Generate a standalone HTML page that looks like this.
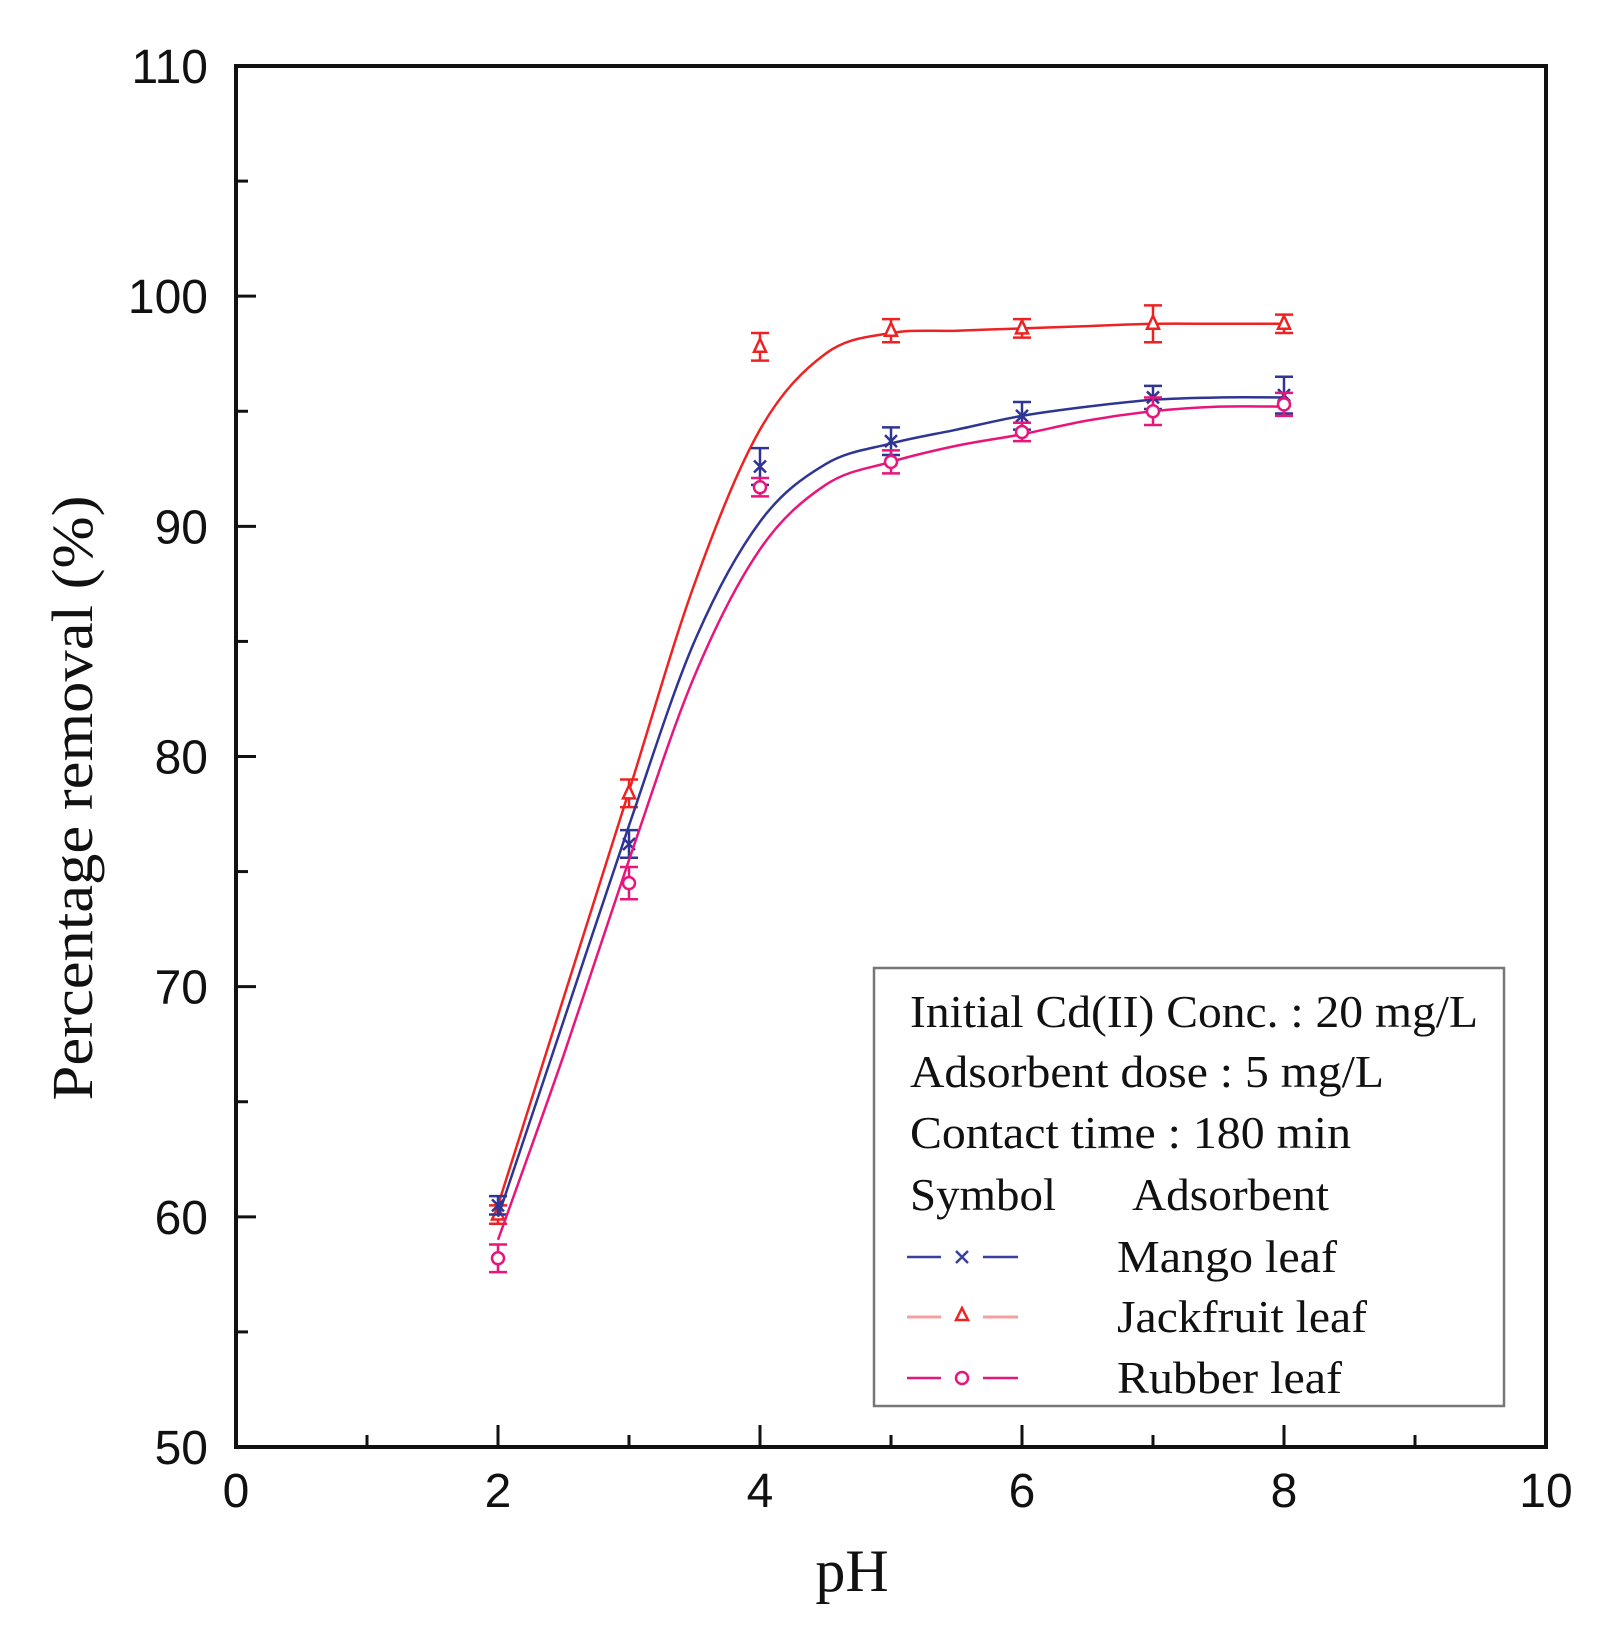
<!DOCTYPE html>
<html><head><meta charset="utf-8"><style>
html,body{margin:0;padding:0;background:#fff;}
svg{display:block;}
</style></head><body>
<svg id="chart" width="1600" height="1637" viewBox="0 0 1600 1637" xmlns="http://www.w3.org/2000/svg">
<g id="plot"></g>
<rect x="236" y="66" width="1310" height="1381" fill="none" stroke="#111" stroke-width="4"/>
<text transform="translate(92,798) rotate(-90)" text-anchor="middle" font-family="Liberation Serif, serif" font-size="58" textLength="605" lengthAdjust="spacingAndGlyphs" fill="#111">Percentage removal (%)</text>
<text x="852" y="1591" text-anchor="middle" font-family="Liberation Serif, serif" font-size="60" fill="#111">pH</text>
<g>
<rect x="874" y="968" width="630" height="438" fill="#fff" stroke="#777" stroke-width="2.5"/>
<g font-family="Liberation Serif, serif" font-size="46" fill="#111">
<text x="910" y="1027" textLength="568" lengthAdjust="spacingAndGlyphs">Initial Cd(II) Conc. : 20 mg/L</text>
<text x="910" y="1087" textLength="474" lengthAdjust="spacingAndGlyphs">Adsorbent dose : 5 mg/L</text>
<text x="910" y="1148" textLength="441" lengthAdjust="spacingAndGlyphs">Contact time : 180 min</text>
<text x="910" y="1210" textLength="146" lengthAdjust="spacingAndGlyphs">Symbol</text>
<text x="1132" y="1210" textLength="197" lengthAdjust="spacingAndGlyphs">Adsorbent</text>
<text x="1117" y="1272" textLength="220" lengthAdjust="spacingAndGlyphs">Mango leaf</text>
<text x="1117" y="1332" textLength="250" lengthAdjust="spacingAndGlyphs">Jackfruit leaf</text>
<text x="1117" y="1393" textLength="225" lengthAdjust="spacingAndGlyphs">Rubber leaf</text>
</g>
<g stroke="#3a3f9e" stroke-width="2.5" fill="none">
<line x1="907" y1="1257" x2="941" y2="1257"/><line x1="983" y1="1257" x2="1018" y2="1257"/>
<path d="M956 1251 L968 1263 M968 1251 L956 1263"/></g>
<g fill="none">
<line x1="907" y1="1317" x2="941" y2="1317" stroke="#f4a0a0" stroke-width="3"/><line x1="983" y1="1317" x2="1018" y2="1317" stroke="#f4a0a0" stroke-width="3"/>
<path d="M962 1308 L968 1320 L956 1320 Z" stroke="#ee2222" stroke-width="2.5"/></g>
<g fill="none" stroke="#e8157a" stroke-width="2.5">
<line x1="907" y1="1378" x2="941" y2="1378"/><line x1="983" y1="1378" x2="1018" y2="1378"/>
<circle cx="962" cy="1378" r="6"/></g>
</g>
</svg>
<script>
const phValues = [2, 3, 4, 5, 6, 7, 8];
const mangoValues = [60.5, 76.2, 92.6, 93.7, 94.8, 95.6, 95.7];
const mangoErrors = [0.4, 0.6, 0.8, 0.6, 0.6, 0.5, 0.8];
const jackfruitValues = [60.1, 78.4, 97.8, 98.5, 98.6, 98.8, 98.8];
const jackfruitErrors = [0.4, 0.6, 0.6, 0.5, 0.4, 0.8, 0.4];
const rubberValues = [58.2, 74.5, 91.7, 92.8, 94.1, 95.0, 95.3];
const rubberErrors = [0.6, 0.7, 0.4, 0.5, 0.4, 0.6, 0.5];
const fitPh = [2, 2.5, 3, 3.5, 4, 4.5, 5, 5.5, 6, 6.5, 7, 7.5, 8];
const jackfruitFit = [60.5, 69.5, 78.5, 87.5, 94.2, 97.5, 98.4, 98.5, 98.6, 98.7, 98.8, 98.8, 98.8];
const mangoFit = [60.0, 68.5, 77.0, 85.0, 90.2, 92.7, 93.6, 94.2, 94.8, 95.2, 95.5, 95.6, 95.6];
const rubberFit = [59.0, 67.0, 75.5, 83.5, 89.0, 91.8, 92.8, 93.5, 94.0, 94.6, 95.0, 95.2, 95.2];
const xTickLabels = ["0", "2", "4", "6", "8", "10"];
const yTickLabels = ["50", "60", "70", "80", "90", "100", "110"];

const NS = "http://www.w3.org/2000/svg";
const X0 = 236, X1 = 1546, Y0 = 1447, Y1 = 66;
const xMin = 0, xMax = 10, yMin = 50, yMax = 110;
function sx(v){ return X0 + (v - xMin) / (xMax - xMin) * (X1 - X0); }
function sy(v){ return Y0 - (v - yMin) / (yMax - yMin) * (Y0 - Y1); }
const plot = document.getElementById('plot');
function mk(tag, attrs, parent){
  const e = document.createElementNS(NS, tag);
  for (const k in attrs) e.setAttribute(k, attrs[k]);
  (parent || plot).appendChild(e);
  return e;
}

// axes ticks
const axes = mk('g', {});


for (let v = 0; v <= 10; v++) {
  const major = v % 2 === 0;
  const t = mk('line', {x1: sx(v), x2: sx(v), y1: Y0, y2: Y0 - (major ? 22 : 12), stroke: '#111', 'stroke-width': 3}, axes);
  
  
}
for (let v = 50; v <= 110; v += 5) {
  const major = v % 10 === 0;
  const t = mk('line', {x1: X0, x2: X0 + (major ? 20 : 12), y1: sy(v), y2: sy(v), stroke: '#111', 'stroke-width': 3}, axes);
  
  
}
xTickLabels.forEach(function(lab){
  const t = mk('text', {x: sx(parseFloat(lab)), y: 1507, 'text-anchor': 'middle', 'font-family': 'Liberation Sans, sans-serif', 'font-size': 48, fill: '#111'}, axes);
  
  
  t.textContent = lab;
});
yTickLabels.forEach(function(lab){
  const t = mk('text', {x: 208, y: sy(parseFloat(lab)) + 17, 'text-anchor': 'end', 'font-family': 'Liberation Sans, sans-serif', 'font-size': 48, fill: '#111'}, axes);
  
  
  t.textContent = lab;
});

// smooth path through fit points (Catmull-Rom)
function smoothPath(xs, ys){
  const p = xs.map(function(x, i){ return [sx(x), sy(ys[i])]; });
  let d = 'M' + p[0][0] + ' ' + p[0][1];
  for (let i = 0; i < p.length - 1; i++) {
    const p0 = p[Math.max(i - 1, 0)], p1 = p[i], p2 = p[i + 1], p3 = p[Math.min(i + 2, p.length - 1)];
    const c1 = [p1[0] + (p2[0] - p0[0]) / 6, p1[1] + (p2[1] - p0[1]) / 6];
    const c2 = [p2[0] - (p3[0] - p1[0]) / 6, p2[1] - (p3[1] - p1[1]) / 6];
    d += ' C' + c1[0] + ' ' + c1[1] + ' ' + c2[0] + ' ' + c2[1] + ' ' + p2[0] + ' ' + p2[1];
  }
  return d;
}

const series = [
  {name: 'jackfruit', color: '#ee2222', vals: jackfruitValues, errs: jackfruitErrors, fit: jackfruitFit, marker: 'tri'},
  {name: 'mango', color: '#2f3593', vals: mangoValues, errs: mangoErrors, fit: mangoFit, marker: 'x'},
  {name: 'rubber', color: '#e8157a', vals: rubberValues, errs: rubberErrors, fit: rubberFit, marker: 'circle'}
];
series.forEach(function(s){
  const g = mk('g', {});
  
  
  const line = mk('path', {d: smoothPath(fitPh, s.fit), fill: 'none', stroke: s.color, 'stroke-width': 2.5}, g);
  
  
  phValues.forEach(function(ph, i){
    const cx = sx(ph), cy = sy(s.vals[i]);
    const yt = sy(s.vals[i] + s.errs[i]), yb = sy(s.vals[i] - s.errs[i]);
    const eb = mk('path', {d: 'M' + cx + ' ' + yt + ' V' + yb + ' M' + (cx - 9) + ' ' + yt + ' H' + (cx + 9) + ' M' + (cx - 9) + ' ' + yb + ' H' + (cx + 9), stroke: s.color, 'stroke-width': 2.5, fill: 'none'}, g);
    
    
    let m;
    if (s.marker === 'tri') {
      m = mk('path', {d: 'M' + cx + ' ' + (cy - 8) + ' L' + (cx + 6) + ' ' + (cy + 5) + ' L' + (cx - 6) + ' ' + (cy + 5) + ' Z', fill: '#fff', stroke: s.color, 'stroke-width': 2.5}, g);
    } else if (s.marker === 'x') {
      m = mk('path', {d: 'M' + (cx - 6) + ' ' + (cy - 6) + ' L' + (cx + 6) + ' ' + (cy + 6) + ' M' + (cx + 6) + ' ' + (cy - 6) + ' L' + (cx - 6) + ' ' + (cy + 6), fill: 'none', stroke: s.color, 'stroke-width': 2.5}, g);
    } else {
      m = mk('circle', {cx: cx, cy: cy, r: 6, fill: '#fff', stroke: s.color, 'stroke-width': 2.5}, g);
    }
    
    
  });
});
</script>
</body></html>
